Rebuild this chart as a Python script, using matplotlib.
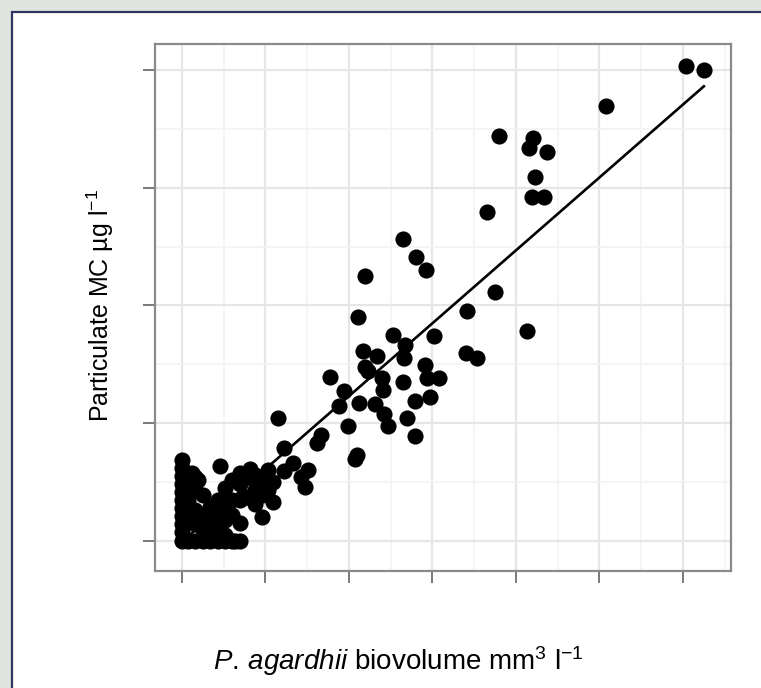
import numpy as np
import matplotlib.pyplot as plt
from matplotlib.patches import Rectangle
from matplotlib.ticker import MultipleLocator

plt.rcParams['font.family'] = ['Liberation Sans', 'DejaVu Sans']
plt.rcParams['mathtext.fontset'] = 'custom'
plt.rcParams['mathtext.rm'] = 'Liberation Sans'
plt.rcParams['mathtext.it'] = 'Liberation Sans:italic'

# biovolume (x) and particulate MC (y) (axis units = tick steps)
x_high = [6.04, 6.25, 5.08, 3.80, 4.20, 4.16, 4.37, 4.23, 4.19, 4.34, 3.65,
          2.65, 2.80, 2.92, 2.19, 3.75, 2.11, 3.41, 4.13, 2.53, 3.02, 2.67,
          2.17, 2.34, 3.40, 3.53, 2.66, 2.91, 2.19, 2.23, 1.77, 2.40, 2.93,
          3.08, 2.65, 2.41, 1.94, 2.79, 2.97, 1.88, 2.12, 2.31, 2.42, 1.99,
          2.47, 2.69, 2.79, 1.66, 1.62, 2.10, 2.07]
y_high = [4.03, 4.00, 3.69, 3.44, 3.42, 3.34, 3.30, 3.09, 2.92, 2.92, 2.79,
          2.56, 2.41, 2.30, 2.25, 2.11, 1.90, 1.95, 1.78, 1.75, 1.74, 1.66,
          1.61, 1.57, 1.60, 1.55, 1.55, 1.49, 1.48, 1.44, 1.39, 1.38, 1.38,
          1.38, 1.35, 1.28, 1.27, 1.19, 1.22, 1.15, 1.17, 1.16, 1.08, 0.98,
          0.98, 1.04, 0.89, 0.90, 0.83, 0.73, 0.70]

x_mid = [1.15, 1.22, 1.33, 1.22, 1.51, 1.43, 1.47, 0.81, 0.69, 0.46,
         0.12, 0.19]
y_mid = [1.04, 0.79, 0.66, 0.59, 0.60, 0.54, 0.46, 0.61, 0.58, 0.64,
         0.58, 0.52]

x_low = [0.00] * 11 + [0.07] * 4 + [0.16] * 5 + [0.25] * 4 + [0.34] * 4 \
    + [0.43] * 4 + [0.51] * 5 + [0.60] * 4 + [0.69] * 4 + [0.78] * 2 \
    + [0.87] * 3 + [0.96] * 3 + [1.03] * 2 + [1.09] * 2 + [0.63]
y_low = [0.69, 0.62, 0.55, 0.48, 0.42, 0.35, 0.28, 0.21, 0.14, 0.08, 0.00,
         0.52, 0.35, 0.18, 0.00,
         0.54, 0.43, 0.26, 0.14, 0.00,
         0.39, 0.22, 0.09, 0.00,
         0.29, 0.18, 0.07, 0.00,
         0.35, 0.25, 0.14, 0.00,
         0.45, 0.31, 0.18, 0.05, 0.00,
         0.52, 0.35, 0.22, 0.00,
         0.48, 0.35, 0.15, 0.00,
         0.54, 0.37,
         0.56, 0.43, 0.31,
         0.52, 0.39, 0.20,
         0.60, 0.43,
         0.33, 0.50,
         0.00]

x_all = np.array(x_high + x_mid + x_low)
y_all = np.array(y_high + y_mid + y_low)

# fitted line
fit_slope = 0.619
fit_intercept = -0.008

fig = plt.figure(figsize=(7.61, 6.88), dpi=100)
fig.patch.set_facecolor('#dfe4de')

# white panel with dark frame (extends past right / bottom edge)
panel = Rectangle((12 / 761, -0.05), 1.1, 1 - 12 / 688 + 0.05,
                  transform=fig.transFigure, facecolor='white',
                  edgecolor='#2f3560', linewidth=1.6, zorder=-10)
fig.patches.append(panel)

ax = fig.add_axes([155 / 761, 1 - 571 / 688, 576 / 761, 527 / 688])
ax.set_zorder(1)
ax.set_facecolor('white')

ax.scatter(x_all, y_all, s=135, color='black', linewidths=0, zorder=3)

xs = np.array([x_all.min(), x_all.max()])
ax.plot(xs, fit_intercept + fit_slope * xs, color='black', lw=1.9, zorder=4)

ax.set_xlim(-0.323, 6.575)
ax.set_ylim(-0.255, 4.22)
ax.xaxis.set_major_locator(MultipleLocator(1))
ax.yaxis.set_major_locator(MultipleLocator(1))
ax.xaxis.set_minor_locator(MultipleLocator(0.5))
ax.yaxis.set_minor_locator(MultipleLocator(0.5))
ax.set_xticklabels([])
ax.set_yticklabels([])
ax.tick_params(which='major', length=8.5, width=1.1, color='#555555')
ax.tick_params(which='minor', length=0)
ax.grid(which='major', color='#e6e6e6', lw=1.6, zorder=0)
ax.grid(which='minor', color='#f3f3f3', lw=1.2, zorder=0)
ax.set_axisbelow(True)
for sp in ax.spines.values():
    sp.set_color('#8a8a8a')
    sp.set_linewidth(1.6)

fig.text(398 / 761, 1 - 661 / 688,
         r'$\mathit{P.\,agardhii}$ biovolume mm$^{3}$ l$^{\mathrm{-1}}$',
         ha='center', va='center', fontsize=20)
fig.text(100 / 761, 1 - 305 / 688, r'Particulate MC µg l$^{\mathrm{-1}}$',
         ha='center', va='center', rotation=90, fontsize=18)

fig.savefig('out.png', dpi=100, facecolor=fig.get_facecolor())
